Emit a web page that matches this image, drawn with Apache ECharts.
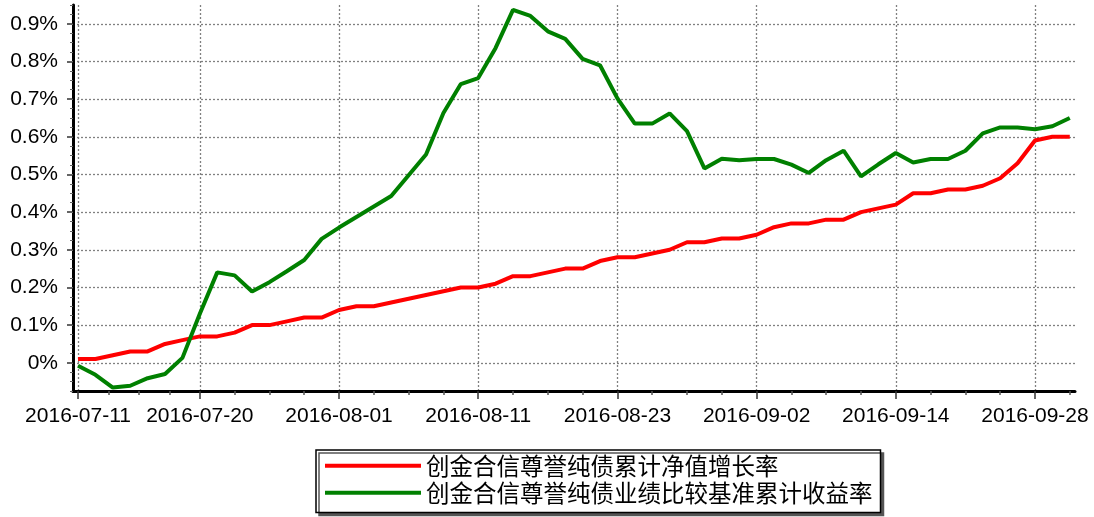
<!DOCTYPE html>
<html>
<head>
<meta charset="utf-8">
<script src="https://cdn.jsdelivr.net/npm/echarts@6/dist/echarts.min.js"></script>
<style>
html, body { margin: 0; padding: 0; background: #fff; }
#chart { width: 1094px; height: 517px; }
</style>
</head>
<body>
<div id="chart"></div>
<script>
const dates = [
  '2016-07-11', '2016-07-12', '2016-07-13', '2016-07-14', '2016-07-15',
  '2016-07-18', '2016-07-19', '2016-07-20', '2016-07-21', '2016-07-22',
  '2016-07-25', '2016-07-26', '2016-07-27', '2016-07-28', '2016-07-29',
  '2016-08-01', '2016-08-02', '2016-08-03', '2016-08-04', '2016-08-05',
  '2016-08-08', '2016-08-09', '2016-08-10', '2016-08-11', '2016-08-12',
  '2016-08-15', '2016-08-16', '2016-08-17', '2016-08-18', '2016-08-19',
  '2016-08-22', '2016-08-23', '2016-08-24', '2016-08-25', '2016-08-26',
  '2016-08-29', '2016-08-30', '2016-08-31', '2016-09-01', '2016-09-02',
  '2016-09-05', '2016-09-06', '2016-09-07', '2016-09-08', '2016-09-09',
  '2016-09-12', '2016-09-13', '2016-09-14',
  '2016-09-19', '2016-09-20', '2016-09-21', '2016-09-22', '2016-09-23',
  '2016-09-26', '2016-09-27', '2016-09-28', '2016-09-29', '2016-09-30'
]
const labelDates = ['2016-07-11', '2016-07-20', '2016-08-01', '2016-08-11', '2016-08-23', '2016-09-02', '2016-09-14', '2016-09-28']

// 累计净值增长率 (%)
const fundReturn = [
  0.01, 0.01, 0.02, 0.03, 0.03, 0.05, 0.06, 0.07, 0.07, 0.08,
  0.10, 0.10, 0.11, 0.12, 0.12, 0.14, 0.15, 0.15, 0.16, 0.17,
  0.18, 0.19, 0.20, 0.20, 0.21, 0.23, 0.23, 0.24, 0.25, 0.25,
  0.27, 0.28, 0.28, 0.29, 0.30, 0.32, 0.32, 0.33, 0.33, 0.34,
  0.36, 0.37, 0.37, 0.38, 0.38, 0.40, 0.41, 0.42, 0.45, 0.45,
  0.46, 0.46, 0.47, 0.49, 0.53, 0.59, 0.60, 0.60
]
// 业绩比较基准累计收益率 (%)
const benchReturn = [
  -0.008, -0.032, -0.066, -0.061, -0.041, -0.030, 0.013, 0.130, 0.240, 0.232,
  0.189, 0.214, 0.243, 0.273, 0.329, 0.359, 0.387, 0.415, 0.443, 0.498,
  0.553, 0.663, 0.740, 0.756, 0.836, 0.937, 0.921, 0.880, 0.860, 0.807,
  0.790, 0.702, 0.635, 0.635, 0.662, 0.615, 0.516, 0.542, 0.538, 0.541,
  0.541, 0.526, 0.504, 0.538, 0.563, 0.495, 0.527, 0.557, 0.532, 0.541,
  0.541, 0.563, 0.609, 0.625, 0.625, 0.620, 0.628, 0.650
]
const yTicks = [0, 0.1, 0.2, 0.3, 0.4, 0.5, 0.6, 0.7, 0.8, 0.9]
const seriesNames = ['创金合信尊誉纯债累计净值增长率', '创金合信尊誉纯债业绩比较基准累计收益率']

const labelIdx = labelDates.map(d => dates.indexOf(d))
// small ticks: every label gap split in four
let minorIdx = []
for (let k = 0; k < labelIdx.length - 1; k++) {
  const a = labelIdx[k], b = labelIdx[k + 1]
  for (let j = 1; j < 4; j++) minorIdx.push(a + (b - a) * j / 4)
}
minorIdx.push(dates.length - 1)

const font = '"Liberation Sans", Arial, sans-serif'
const xMin = -0.29, xMax = dates.length - 1 + 0.3
const yMin = -0.075, yMax = 0.95
const gridLine = { show: true, lineStyle: { type: [2, 2], color: '#808080', width: 1.3 } }

const chart = echarts.init(document.getElementById('chart'))
chart.setOption({
  animation: false,
  backgroundColor: '#fff',
  grid: { left: 73, right: 19, top: 5, bottom: 126 },
  legend: {
    orient: 'vertical',
    left: 316,
    top: 450,
    icon: 'rect',
    itemWidth: 96,
    itemHeight: 4,
    itemGap: 3.5,
    padding: [4, 8, 8, 9],
    borderColor: '#000',
    borderWidth: 1.5,
    backgroundColor: '#fff',
    shadowColor: '#555',
    shadowBlur: 0,
    shadowOffsetX: 3,
    shadowOffsetY: 3,
    selectedMode: false,
    textStyle: { fontFamily: '"Noto Sans CJK SC"', fontSize: 23.5, color: '#000' },
    data: seriesNames
  },
  xAxis: [
    {
      type: 'value', min: xMin, max: xMax, position: 'bottom',
      axisLine: { show: true, onZero: false, lineStyle: { color: '#000', width: 3 } },
      axisTick: { show: true, customValues: labelIdx, length: 8, lineStyle: { color: '#333', width: 1.5 } },
      axisLabel: {
        customValues: labelIdx, margin: 15,
        formatter: v => dates[Math.round(v)],
        fontFamily: font, fontSize: 21, color: '#000'
      },
      splitLine: gridLine
    },
    {
      type: 'value', min: xMin, max: xMax, position: 'bottom', offset: 0,
      axisLine: { show: false, onZero: false },
      axisTick: { show: true, customValues: minorIdx, length: 4, lineStyle: { color: '#555', width: 1.5 } },
      axisLabel: { show: false },
      splitLine: { show: false }
    }
  ],
  yAxis: [
    {
      type: 'value', min: yMin, max: yMax, position: 'left',
      axisLine: { show: true, onZero: false, lineStyle: { color: '#000', width: 3 } },
      axisTick: { show: true, customValues: yTicks, length: 6, lineStyle: { color: '#333', width: 1.5 } },
      axisLabel: {
        customValues: yTicks, margin: 15,
        formatter: v => +v.toFixed(1) + '%',
        fontFamily: font, fontSize: 21, color: '#000'
      },
      splitLine: gridLine
    },
    {
      type: 'value', min: yMin, max: yMax, interval: 0.025, position: 'left', offset: 0,
      axisLine: { show: false, onZero: false },
      axisTick: { show: true, length: 3, lineStyle: { color: '#666', width: 1 } },
      axisLabel: { show: false },
      splitLine: { show: false }
    }
  ],
  series: [
    {
      name: seriesNames[0], type: 'line', xAxisIndex: 0, yAxisIndex: 0,
      symbol: 'none', color: '#ff0000',
      lineStyle: { width: 4, color: '#ff0000' },
      data: fundReturn.map((v, i) => [i, v])
    },
    {
      name: seriesNames[1], type: 'line', xAxisIndex: 0, yAxisIndex: 0,
      symbol: 'none', color: '#008000',
      lineStyle: { width: 4, color: '#008000' },
      data: benchReturn.map((v, i) => [i, v])
    }
  ]
})
</script>
</body>
</html>
